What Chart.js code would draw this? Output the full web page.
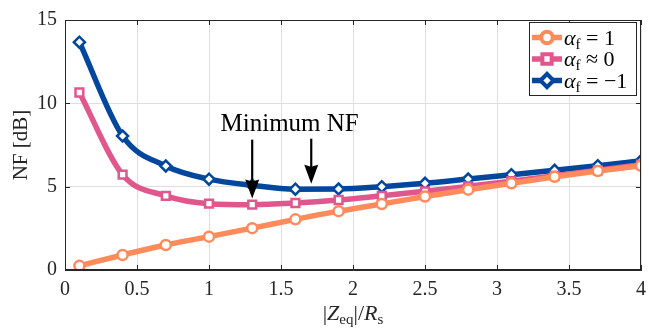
<!DOCTYPE html>
<html>
<head>
<meta charset="utf-8">
<script src="https://cdn.jsdelivr.net/npm/chart.js@4/dist/chart.umd.min.js"></script>
<style>
  html, body { margin: 0; padding: 0; background: #fff; }
  #wrap { width: 649px; height: 331px; }
</style>
</head>
<body>
<div id="wrap"><canvas id="nfChart" width="649" height="331"></canvas></div>
<script>
// |Zeq|/Rs sample points (markers)
const zRatio = [0.1, 0.4, 0.7, 1.0, 1.3, 1.6, 1.9, 2.2, 2.5, 2.8, 3.1, 3.4, 3.7, 4.0];

// NF [dB]
const nfAlphaPos  = [0.25, 0.90, 1.50, 2.00, 2.51, 3.04, 3.53, 3.96, 4.41, 4.82, 5.20, 5.59, 5.94, 6.25];
const nfAlphaZero = [10.65, 5.72, 4.45, 3.98, 3.92, 4.02, 4.20, 4.45, 4.72, 5.02, 5.33, 5.65, 5.98, 6.32];
const nfAlphaNeg  = [13.67, 8.04, 6.24, 5.45, 5.08, 4.85, 4.86, 5.00, 5.20, 5.46, 5.72, 5.98, 6.26, 6.55];

const legendTail = ['= 1', '\u2248 0', '= \u22121'];
const xTicks = [0, 0.5, 1, 1.5, 2, 2.5, 3, 3.5, 4];
const yTicks = [0, 5, 10, 15];

// arrows: [x, yStart, yEnd] in data units
const arrows = [[1.3, 7.82, 4.29], [1.71, 7.88, 5.18]];
const noteText = 'Minimum NF';
const notePos = [1.56, 8.35];

const colors = ['#FF8A5B', '#E0578D', '#00479D'];
const SERIF = '"Liberation Serif", "DejaVu Serif", serif';
const AXIS_COL = '#262626';

function toPts(ys) {
    return zRatio.map((x, i) => ({ x: x, y: ys[i] }));
}

const extras = {
    id: 'extras',
    afterDraw(chart) {
        const ctx = chart.ctx;
        const xs = chart.scales.x, ys = chart.scales.y;
        const a = chart.chartArea;
        ctx.save();

        // box + inward ticks
        ctx.strokeStyle = AXIS_COL;
        ctx.lineWidth = 1;
        ctx.strokeRect(a.left + 0.5, a.top + 0.5, a.right - a.left - 1, a.bottom - a.top - 1);
        ctx.beginPath();
        xTicks.forEach(t => {
            const px = Math.round(xs.getPixelForValue(t)) + 0.5;
            ctx.moveTo(px, a.bottom); ctx.lineTo(px, a.bottom - 5);
            ctx.moveTo(px, a.top); ctx.lineTo(px, a.top + 5);
        });
        yTicks.forEach(t => {
            const py = Math.round(ys.getPixelForValue(t)) + 0.5;
            ctx.moveTo(a.left, py); ctx.lineTo(a.left + 5, py);
            ctx.moveTo(a.right, py); ctx.lineTo(a.right - 5, py);
        });
        ctx.stroke();

        // annotation arrows
        ctx.fillStyle = '#000';
        ctx.strokeStyle = '#000';
        ctx.lineWidth = 2.2;
        arrows.forEach(ar => {
            const px = xs.getPixelForValue(ar[0]);
            const y0 = ys.getPixelForValue(ar[1]);
            const y1 = ys.getPixelForValue(ar[2]);
            ctx.beginPath();
            ctx.moveTo(px, y0); ctx.lineTo(px, y1 - 12);
            ctx.stroke();
            ctx.beginPath();
            ctx.moveTo(px, y1);
            ctx.lineTo(px - 7, y1 - 19);
            ctx.lineTo(px, y1 - 17);
            ctx.lineTo(px + 7, y1 - 19);
            ctx.closePath();
            ctx.fill();
        });

        // annotation text
        ctx.font = '25px ' + SERIF;
        ctx.textAlign = 'center';
        ctx.textBaseline = 'alphabetic';
        ctx.fillText(noteText, xs.getPixelForValue(notePos[0]), ys.getPixelForValue(notePos[1]));

        // y title
        ctx.fillStyle = AXIS_COL;
        ctx.save();
        ctx.translate(27, (a.top + a.bottom) / 2);
        ctx.rotate(-Math.PI / 2);
        ctx.font = '21px ' + SERIF;
        ctx.textAlign = 'center';
        ctx.fillText('NF [dB]', 0, 0);
        ctx.restore();

        // x title |Z_eq|/R_s
        const parts = [
            { t: '|', f: '22px ' + SERIF, dy: 0 },
            { t: 'Z', f: 'italic 22px ' + SERIF, dy: 0 },
            { t: 'eq', f: '15px ' + SERIF, dy: 4 },
            { t: '|/', f: '22px ' + SERIF, dy: 0 },
            { t: 'R', f: 'italic 22px ' + SERIF, dy: 0 },
            { t: 's', f: '15px ' + SERIF, dy: 4 }
        ];
        drawParts(ctx, parts, (a.left + a.right) / 2, 320, true);

        // legend
        const lx = 529, ly = 22, lw = 107, lh = 73;
        ctx.fillStyle = '#fff';
        ctx.fillRect(lx, ly, lw, lh);
        ctx.strokeStyle = AXIS_COL;
        ctx.lineWidth = 1;
        ctx.strokeRect(lx + 0.5, ly + 0.5, lw, lh);
        chart.data.datasets.forEach((ds, i) => {
            const cy = ly + 15.5 + i * 21.5;
            ctx.strokeStyle = ds.borderColor;
            ctx.lineWidth = 5.5;
            ctx.beginPath();
            ctx.moveTo(lx + 3, cy); ctx.lineTo(lx + 33, cy);
            ctx.stroke();
            Chart.helpers.drawPoint(ctx, {
                pointStyle: ds.pointStyle, radius: ds.pointRadius, rotation: 0,
                borderWidth: ds.pointBorderWidth
            }, lx + 18, cy);
            ctx.fillStyle = '#fff';
            ctx.strokeStyle = ds.borderColor;
            ctx.lineWidth = ds.pointBorderWidth;
            ctx.fill();
            ctx.stroke();
            ctx.fillStyle = '#000';
            drawParts(ctx, [
                { t: '\u03b1', f: 'italic 22px ' + SERIF, dy: 0 },
                { t: 'f', f: '15px ' + SERIF, dy: 4 },
                { t: ' ' + legendTail[i], f: '22px ' + SERIF, dy: 0 }
            ], lx + 35, cy + 7, false);
        });

        ctx.restore();
    }
};

function drawParts(ctx, parts, x, y, centered) {
    let w = 0;
    parts.forEach(p => { ctx.font = p.f; w += ctx.measureText(p.t).width; });
    let cx = centered ? x - w / 2 : x;
    ctx.textAlign = 'left';
    ctx.textBaseline = 'alphabetic';
    parts.forEach(p => {
        ctx.font = p.f;
        ctx.fillText(p.t, cx, y + p.dy);
        cx += ctx.measureText(p.t).width;
    });
}

function makeSet(label, ys, i, style, r) {
    return {
        label: label,
        data: toPts(ys),
        borderColor: colors[i],
        backgroundColor: colors[i],
        borderWidth: 5.5,
        cubicInterpolationMode: 'monotone',
        pointStyle: style,
        pointRadius: r,
        pointHoverRadius: r,
        pointBorderWidth: 2.5,
        pointBackgroundColor: '#fff',
        pointBorderColor: colors[i]
    };
}

new Chart(document.getElementById('nfChart'), {
    type: 'line',
    data: {
        datasets: [
            makeSet('alpha_f = 1', nfAlphaPos, 0, 'circle', 5),
            makeSet('alpha_f ~ 0', nfAlphaZero, 1, 'rect', 5.5),
            makeSet('alpha_f = -1', nfAlphaNeg, 2, 'rectRot', 5.5)
        ]
    },
    options: {
        responsive: false,
        animation: false,
        layout: { padding: { left: 0, top: 14, right: 3, bottom: 0 } },
        plugins: { legend: { display: false }, tooltip: { enabled: false } },
        scales: {
            x: {
                type: 'linear', min: 0, max: 4,
                afterFit(s) { s.height = 61; s.paddingRight = 0; },
                afterBuildTicks(s) { s.ticks = xTicks.map(v => ({ value: v })); },
                grid: { color: '#dedede', drawTicks: false },
                border: { color: AXIS_COL },
                ticks: { color: AXIS_COL, padding: 8, maxRotation: 0, callback: v => String(v),
                         font: { family: SERIF, size: 20 } }
            },
            y: {
                min: 0, max: 15,
                afterFit(s) { s.width = 65; },
                afterBuildTicks(s) { s.ticks = yTicks.map(v => ({ value: v })); },
                grid: { color: '#dedede', drawTicks: false },
                border: { color: AXIS_COL },
                ticks: { color: AXIS_COL, padding: 8, callback: v => String(v),
                         font: { family: SERIF, size: 20 } }
            }
        }
    },
    plugins: [extras]
});
</script>
</body>
</html>
